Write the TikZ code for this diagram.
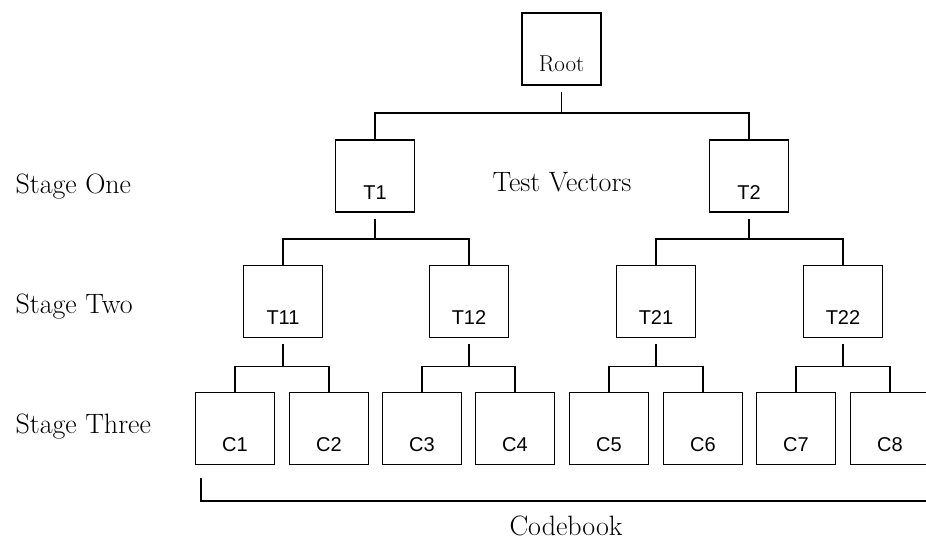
\documentclass[tikz,border=0pt]{standalone}
\usepackage{fontspec}
\newfontfamily\boxfont{Liberation Sans}

\begin{document}
\begin{tikzpicture}[
  x=1pt,
  y=-1pt,
  box/.style={draw, line width=1.7pt, minimum width=79pt, minimum height=72pt, inner sep=0pt, text height=46pt, text depth=0pt, font=\boxfont\fontsize{20}{24}\selectfont},
  rootbox/.style={box, font=\fontsize{23}{26}\selectfont, text height=44pt},
  stage/.style={anchor=west, font=\fontsize{28}{32}\selectfont},
  note/.style={font=\fontsize{28}{32}\selectfont},
  link/.style={line width=1.7pt, shorten <=6pt}
]
  \useasboundingbox (0,0) rectangle (926,544);

  \node[rootbox] (root) at (561.5, 49) {Root};

  \node[box] (t1) at (375, 176) {T1};
  \node[box] (t2) at (749, 176) {T2};

  \node[box] (t11) at (283, 301.5) {T11};
  \node[box] (t12) at (469, 301.5) {T12};
  \node[box] (t21) at (656, 301.5) {T21};
  \node[box] (t22) at (843, 301.5) {T22};

  \node[box] (c1) at (235, 428.5) {C1};
  \node[box] (c2) at (329, 428.5) {C2};
  \node[box] (c3) at (422, 428.5) {C3};
  \node[box] (c4) at (515, 428.5) {C4};
  \node[box] (c5) at (609, 428.5) {C5};
  \node[box] (c6) at (703, 428.5) {C6};
  \node[box] (c7) at (796, 428.5) {C7};
  \node[box] (c8) at (890, 428.5) {C8};

  % stage labels
  \node[stage] (one) at (12, 187) {Stage One};
  \node[stage] (two) at (12, 307) {Stage Two};
  \node[stage] (three) at (12, 427) {Stage Three};
  \node[note] (vectors) at (562, 182) {Test Vectors};
  \node[note] (codebook) at (566, 526) {Codebook};

  \draw[link] (root.south) -- ++(0,27) -| (t1.north);
  \draw[link] (root.south) -- ++(0,27) -| (t2.north);

  \draw[link] (t1.south) -- ++(0,26) -| (t11.north);
  \draw[link] (t1.south) -- ++(0,26) -| (t12.north);
  \draw[link] (t2.south) -- ++(0,26) -| (t21.north);
  \draw[link] (t2.south) -- ++(0,26) -| (t22.north);

  \draw[link] (t11.south) -- ++(0,28) -| (c1.north);
  \draw[link] (t11.south) -- ++(0,28) -| (c2.north);
  \draw[link] (t12.south) -- ++(0,28) -| (c3.north);
  \draw[link] (t12.south) -- ++(0,28) -| (c4.north);
  \draw[link] (t21.south) -- ++(0,28) -| (c5.north);
  \draw[link] (t21.south) -- ++(0,28) -| (c6.north);
  \draw[link] (t22.south) -- ++(0,28) -| (c7.north);
  \draw[link] (t22.south) -- ++(0,28) -| (c8.north);

  % codebook bracket
  \coordinate (cbl) at (201, 478);
  \coordinate (cbr) at (926, 501);
  \draw[line width=1.7pt] (cbl) |- (cbr);
\end{tikzpicture}
\end{document}
